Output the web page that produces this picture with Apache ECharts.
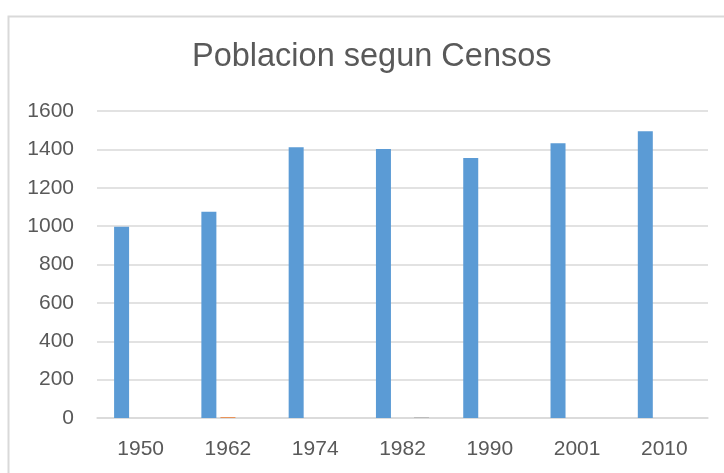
<!DOCTYPE html>
<html>
<head>
<meta charset="utf-8">
<script src="https://cdn.jsdelivr.net/npm/echarts@6/dist/echarts.min.js"></script>
<style>
  html, body {margin: 0; padding: 0; background: #fff;}
  #chart {width: 724px; height: 473px;}
</style>
</head>
<body>
<div id="chart"></div>
<script>
const YEARS = ["1950", "1962", "1974", "1982", "1990", "2001", "2010"];
// main series plus two near-empty series that Excel left in the sheet
const POBLACION = [997, 1075, 1411, 1402, 1355, 1432, 1494];
const SERIE2 = [0, 4, 0, 0, 0, 0, 0];
const SERIE3 = [0, 0, 0, 3, 0, 0, 0];

const TEXT = "#595959";
const GRID = "#D9D9D9";
const FONT = "Liberation Sans, Arial, sans-serif";

const chart = echarts.init(document.getElementById("chart"));

chart.setOption({
  animation: false,
  textStyle: {fontFamily: FONT},
  title: {
    text: "Poblacion segun Censos",
    left: 187,
    top: 36,
    textStyle: {fontSize: 32.5, fontWeight: "normal", color: TEXT, fontFamily: FONT},
  },
  graphic: [{
    type: "rect",
    shape: {x: 8.5, y: 16.5, width: 730, height: 470},
    style: {fill: null, stroke: GRID, lineWidth: 2},
    silent: true,
  }],
  grid: {left: 97, right: 16, top: 111, bottom: 55},
  xAxis: {
    type: "category",
    data: YEARS,
    axisLine: {lineStyle: {color: GRID, width: 1.5}},
    axisTick: {show: false},
    axisLabel: {color: TEXT, fontSize: 21, margin: 21},
  },
  yAxis: {
    type: "value",
    min: 0,
    max: 1600,
    interval: 200,
    axisLine: {show: false},
    axisTick: {show: false},
    axisLabel: {color: TEXT, fontSize: 21, margin: 23, formatter: (v) => String(v)},
    splitLine: {lineStyle: {color: GRID, width: 1.5}},
  },
  series: [
    {name: "Serie1", type: "bar", data: POBLACION, barWidth: 15, barGap: "27%", itemStyle: {color: "#5B9BD5"}},
    {name: "Serie2", type: "bar", data: SERIE2, barWidth: 15, barGap: "27%", itemStyle: {color: "#ED7D31"}},
    {name: "Serie3", type: "bar", data: SERIE3, barWidth: 15, barGap: "27%", itemStyle: {color: "#A5A5A5"}},
  ],
});
</script>
</body>
</html>
